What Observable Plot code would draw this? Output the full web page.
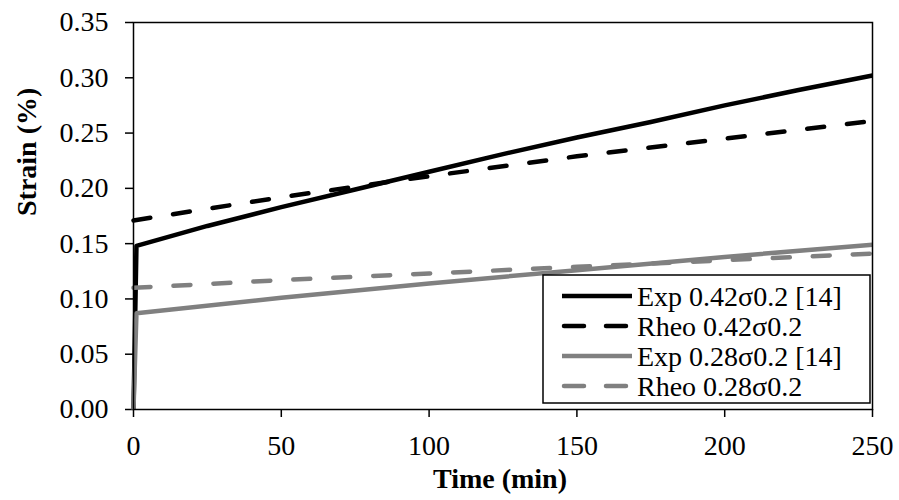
<!DOCTYPE html>
<html>
<head>
<meta charset="utf-8">
<script src="https://cdn.jsdelivr.net/npm/d3@7"></script>
<script src="https://cdn.jsdelivr.net/npm/@observablehq/plot@0.6"></script>
<style>
  html, body { margin: 0; padding: 0; background: #fff; }
  #chart svg { display: block; }
</style>
</head>
<body>
<div id="chart"></div>
<script>
// Creep strain over time: experimental curves and rheological model predictions
const timeExp = [0, 1, 25, 50, 75, 100, 125, 150, 175, 200, 225, 250];
const expHigh = [0, 0.148, 0.166, 0.183, 0.199, 0.215, 0.231, 0.246, 0.260, 0.275, 0.289, 0.302];

const timeRheo = [0, 50, 100, 150, 200, 250];
const rheoHigh = [0.171, 0.192, 0.211, 0.229, 0.245, 0.261];

const timeExpLow = [0, 1, 50, 100, 150, 200, 250];
const expLow = [0, 0.087, 0.101, 0.114, 0.126, 0.138, 0.149];

const rheoLow = [0.110, 0.117, 0.123, 0.129, 0.135, 0.141];

const xTicks = [0, 50, 100, 150, 200, 250];
const yTicks = [0, 0.05, 0.10, 0.15, 0.20, 0.25, 0.30, 0.35];

const seriesNames = ["Exp 0.42σ0.2 [14]", "Rheo 0.42σ0.2", "Exp 0.28σ0.2 [14]", "Rheo 0.28σ0.2"];
const seriesColors = ["#000000", "#000000", "#808080", "#808080"];
const seriesDashes = [null, "17,23", null, "17,23"];

const toRows = (xs, ys) => xs.map((t, i) => ({t, v: ys[i]}));
const series = [
  toRows(timeExp, expHigh),
  toRows(timeRheo, rheoHigh),
  toRows(timeExpLow, expLow),
  toRows(timeRheo, rheoLow)
];

const font = "'Liberation Serif', 'Times New Roman', serif";
const lineWidth = 4.5;

const chart = Plot.plot({
  width: 899,
  height: 500,
  marginLeft: 133,
  marginRight: 27,
  marginTop: 22,
  marginBottom: 91,
  style: {fontFamily: font, fontSize: "28px", background: "#fff", color: "#000"},
  x: {domain: [0, 250]},
  y: {domain: [0, 0.35]},
  marks: [
    Plot.axisX({ticks: xTicks, tickSize: 8, tickPadding: 18, strokeWidth: 1.5, label: null, tickFormat: d3.format("d")}),
    Plot.axisY({ticks: yTicks, tickSize: 8, tickPadding: 17, strokeWidth: 1.5, label: null, tickFormat: d3.format(".2f")}),
    ...series.map((rows, i) => Plot.line(rows, {
      x: "t", y: "v",
      stroke: seriesColors[i],
      strokeWidth: lineWidth,
      strokeDasharray: seriesDashes[i],
      strokeLinecap: seriesDashes[i] ? "round" : "butt",
      strokeLinejoin: "round"
    })),
    Plot.frame({stroke: "#000", strokeWidth: 1.5}),
    Plot.text(["Time (min)"], {frameAnchor: "bottom", dy: 78, dx: -3, fontWeight: "bold", fontSize: 28}),
    Plot.text(["Strain (%)"], {frameAnchor: "left", dx: -106, rotate: -90, fontWeight: "bold", fontSize: 28})
  ]
});

document.getElementById("chart").appendChild(chart);

// Legend box in the lower right of the plot area
const svg = d3.select(chart);
const lg = svg.append("g").attr("transform", "translate(543,275)");
lg.append("rect")
  .attr("width", 327).attr("height", 128)
  .attr("fill", "#fff").attr("stroke", "#000").attr("stroke-width", 1.5);
seriesNames.forEach((name, i) => {
  const cy = 21 + i * 30;
  lg.append("line")
    .attr("x1", 19).attr("x2", 89).attr("y1", cy).attr("y2", cy)
    .attr("stroke", seriesColors[i]).attr("stroke-width", lineWidth)
    .attr("stroke-dasharray", seriesDashes[i] ? "20,22" : null)
    .attr("stroke-dashoffset", seriesDashes[i] ? -2 : null)
    .attr("stroke-linecap", seriesDashes[i] ? "round" : "butt");
  lg.append("text")
    .attr("x", 94).attr("y", cy).attr("dy", "0.35em")
    .attr("text-anchor", "start")
    .attr("font-family", font).attr("font-size", 28)
    .attr("fill", "#000")
    .text(name);
});
</script>
</body>
</html>
